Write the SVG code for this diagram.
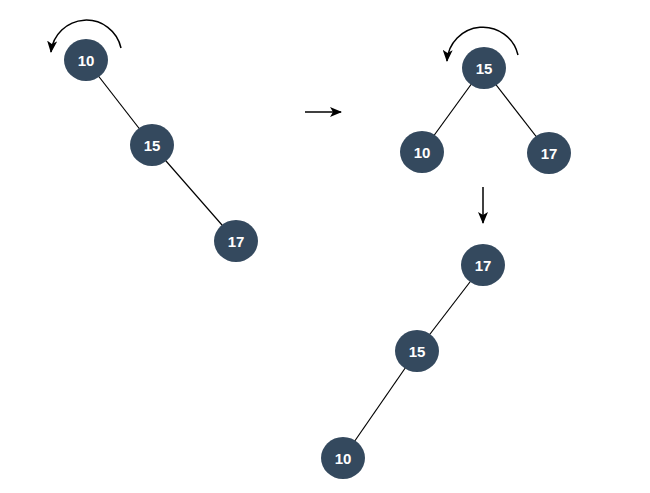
<svg xmlns="http://www.w3.org/2000/svg" width="650" height="493" viewBox="0 0 650 493">
<style>
.node ellipse{fill:#34495e}
.node text{fill:#fff;font-family:"Liberation Sans",Arial,sans-serif;font-size:15px;font-weight:bold;text-anchor:middle;dominant-baseline:central}
.edge{stroke:#000;stroke-width:1.2;fill:none}
.arrow{stroke:#000;stroke-width:1.5;fill:none;marker-end:url(#ah)}
</style>
<defs>
<marker id="ah" viewBox="0 0 12 10" refX="11" refY="5" markerWidth="12" markerHeight="10" markerUnits="userSpaceOnUse" orient="auto">
<path d="M0,0 L12,5 L0,10 L3,5 z" fill="#000"/>
</marker>
</defs>
<rect width="650" height="493" fill="#fff"/>
<g id="connectors">
<line class="edge" x1="86" y1="60" x2="152" y2="145"/>
<line class="edge" x1="152" y1="145" x2="236" y2="241"/>
<line class="edge" x1="483" y1="68" x2="422" y2="152"/>
<line class="edge" x1="483" y1="68" x2="549" y2="153"/>
<line class="edge" x1="483" y1="265" x2="417" y2="351"/>
<line class="edge" x1="417" y1="351" x2="343" y2="458"/>
<path class="arrow" d="M121,48 A35.5,35.5 0 0 0 51,52"/>
<path class="arrow" d="M518,55 A36,36 0 0 0 447,61"/>
<path class="arrow" d="M305,112 L341,112"/>
<path class="arrow" d="M483,187 L483,223"/>
</g>
<g id="n10a" class="node"><ellipse cx="86" cy="60" rx="22" ry="21"/><text x="86" y="60">10</text></g>
<g id="n15a" class="node"><ellipse cx="152" cy="145" rx="22" ry="21"/><text x="152" y="145">15</text></g>
<g id="n17a" class="node"><ellipse cx="236" cy="241" rx="22" ry="21"/><text x="236" y="241">17</text></g>
<g id="n15b" class="node"><ellipse cx="484" cy="68" rx="22" ry="21"/><text x="484" y="68">15</text></g>
<g id="n10b" class="node"><ellipse cx="422" cy="152" rx="22" ry="21"/><text x="422" y="152">10</text></g>
<g id="n17b" class="node"><ellipse cx="549" cy="153" rx="22" ry="21"/><text x="549" y="153">17</text></g>
<g id="n17c" class="node"><ellipse cx="483" cy="265" rx="22" ry="21"/><text x="483" y="265">17</text></g>
<g id="n15c" class="node"><ellipse cx="417" cy="351" rx="22" ry="21"/><text x="417" y="351">15</text></g>
<g id="n10c" class="node"><ellipse cx="343" cy="458" rx="22" ry="21"/><text x="343" y="458">10</text></g>
</svg>
